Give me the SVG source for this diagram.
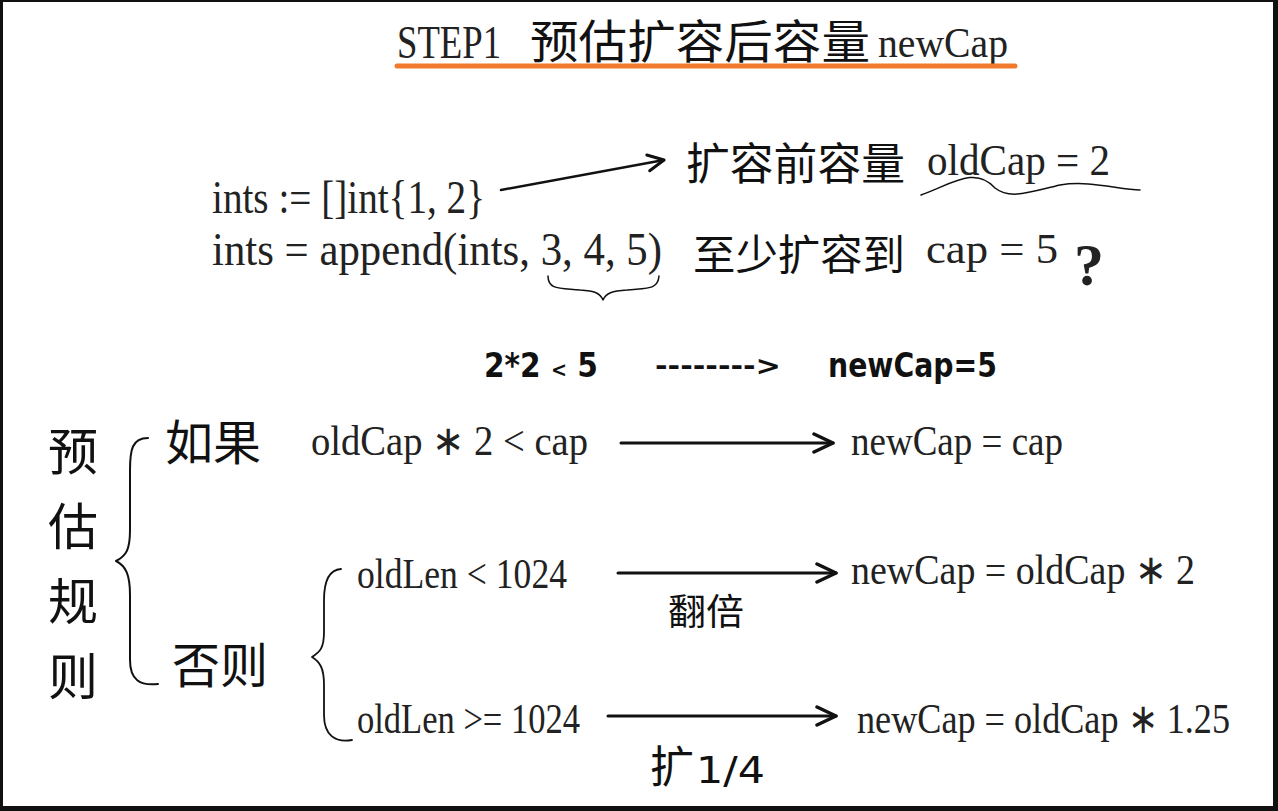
<svg xmlns="http://www.w3.org/2000/svg" width="1278" height="811" viewBox="0 0 1278 811">
<defs>
<style>
.s{font-family:"Liberation Serif","Noto Sans CJK SC",serif;fill:#222;}
.c{font-family:"Noto Sans CJK SC",sans-serif;fill:#111;}
.m{font-family:"DejaVu Sans Condensed","DejaVu Sans",sans-serif;font-weight:bold;fill:#111;}
.n{font-family:"DejaVu Sans Condensed","DejaVu Sans",sans-serif;fill:#111;}
.ln{fill:none;stroke:#111;stroke-linecap:round;stroke-linejoin:round;}
</style>
<marker id="chev" viewBox="0 0 20 20" refX="18" refY="10" markerWidth="20" markerHeight="20" markerUnits="userSpaceOnUse" orient="auto">
<path d="M2,2 L18,10 L2,18" fill="none" stroke="#111" stroke-width="3" stroke-linecap="round" stroke-linejoin="round"/>
</marker>
<marker id="chev2" viewBox="0 0 24 24" refX="22" refY="12" markerWidth="24" markerHeight="24" markerUnits="userSpaceOnUse" orient="auto">
<path d="M3,3 L22,12 L3,21" fill="none" stroke="#111" stroke-width="3.5" stroke-linecap="round" stroke-linejoin="round"/>
</marker>
</defs>
<rect x="0" y="0" width="1278" height="811" fill="#111"/>
<rect x="3" y="2" width="1270" height="804" fill="#fff"/>

<g id="title">
<text class="s" x="397" y="58" font-size="46" textLength="104" lengthAdjust="spacingAndGlyphs">STEP1</text>
<text class="c" x="530" y="58" font-size="46" textLength="340" lengthAdjust="spacingAndGlyphs">预估扩容后容量</text>
<text class="s" x="878" y="57" font-size="42" textLength="130" lengthAdjust="spacingAndGlyphs">newCap</text>
<line x1="397" y1="66" x2="1015" y2="66" stroke="#f27a2c" stroke-width="5" stroke-linecap="round"/>
</g>

<g id="code">
<text class="s" x="212" y="213" font-size="46" textLength="273" lengthAdjust="spacingAndGlyphs">ints := []int{1, 2}</text>
<text class="s" x="212" y="265" font-size="46" textLength="450" lengthAdjust="spacingAndGlyphs">ints = append(ints, 3, 4, 5)</text>
</g>

<g id="oldcap">
<text class="c" x="686" y="180" font-size="44" textLength="219" lengthAdjust="spacingAndGlyphs">扩容前容量</text>
<text class="s" x="927" y="175" font-size="44" textLength="183" lengthAdjust="spacingAndGlyphs">oldCap = 2</text>
</g>

<g id="mincap">
<text class="c" x="693" y="270" font-size="42" textLength="212" lengthAdjust="spacingAndGlyphs">至少扩容到</text>
<text class="s" x="926" y="263" font-size="42" textLength="132" lengthAdjust="spacingAndGlyphs">cap = 5</text>
<text class="s" x="1074" y="285" font-size="60" font-weight="bold" fill="#111">?</text>
</g>

<g id="example">
<text class="m" x="484" y="377" font-size="34" textLength="114" lengthAdjust="spacingAndGlyphs">2*2 <tspan font-size="22">&lt;</tspan> 5</text>
<text class="m" x="655" y="375" font-size="26" textLength="126" lengthAdjust="spacingAndGlyphs">--------&gt;</text>
<text class="m" x="828" y="377" font-size="34" textLength="169" lengthAdjust="spacingAndGlyphs">newCap=5</text>
</g>

<g id="rules">
<text class="c" x="48" y="470" font-size="50">预</text>
<text class="c" x="48" y="545" font-size="50">估</text>
<text class="c" x="48" y="620" font-size="50">规</text>
<text class="c" x="48" y="695" font-size="50">则</text>
</g>

<g id="if">
<text class="c" x="165" y="460" font-size="48">如果</text>
</g>
<g id="else">
<text class="c" x="172" y="683" font-size="48">否则</text>
</g>

<g id="cond1">
<text class="s" x="311" y="455" font-size="42" textLength="277" lengthAdjust="spacingAndGlyphs">oldCap ∗ 2 &lt; cap</text>
</g>
<g id="res1">
<text class="s" x="851" y="455" font-size="42" textLength="212" lengthAdjust="spacingAndGlyphs">newCap = cap</text>
</g>
<g id="cond2">
<text class="s" x="357" y="588" font-size="42" textLength="210" lengthAdjust="spacingAndGlyphs">oldLen &lt; 1024</text>
</g>
<g id="res2">
<text class="s" x="851" y="584" font-size="42" textLength="344" lengthAdjust="spacingAndGlyphs">newCap = oldCap ∗ 2</text>
</g>
<g id="cond3">
<text class="s" x="357" y="733" font-size="42" textLength="223" lengthAdjust="spacingAndGlyphs">oldLen &gt;= 1024</text>
</g>
<g id="res3">
<text class="s" x="857" y="733" font-size="42" textLength="373" lengthAdjust="spacingAndGlyphs">newCap = oldCap ∗ 1.25</text>
</g>
<g id="lbl-double">
<text class="c" x="668" y="625" font-size="36" textLength="76" lengthAdjust="spacingAndGlyphs">翻倍</text>
</g>
<g id="lbl-quarter">
<text class="c" x="650" y="783" font-size="44">扩</text>
<text class="n" x="696" y="783" font-size="38" textLength="69" lengthAdjust="spacingAndGlyphs">1/4</text>
</g>

<g id="connectors">
<path class="ln" d="M501,190 L664,160" stroke-width="2.5" marker-end="url(#chev)"/>
<path class="ln" d="M921,195 C950,185 975,165 995,188 C1010,200 1030,192 1060,185 C1090,180 1120,190 1140,190" stroke-width="1.5"/>
<path class="ln" d="M548,276 C548,290 560,288 580,290 C595,291 600,293 603,300 C606,293 612,291 627,290 C647,288 658,290 659,276" stroke-width="1.5"/>
<path class="ln" d="M148,438 C132,438 130,450 130,470 L130,530 C130,550 126,556 116,561 C126,566 130,575 130,595 L130,660 C130,680 140,686 158,684" stroke-width="2"/>
<path class="ln" d="M341,569 C327,570 324,585 324,600 L324,632 C324,648 320,652 312,657 C320,662 324,668 324,685 L324,715 C324,735 335,743 352,740" stroke-width="1.8"/>
<path class="ln" d="M621,443 L833,443" stroke-width="3" marker-end="url(#chev2)"/>
<path class="ln" d="M618,573 L836,573" stroke-width="3" marker-end="url(#chev2)"/>
<path class="ln" d="M608,716 L836,716" stroke-width="3" marker-end="url(#chev2)"/>
</g>
</svg>
